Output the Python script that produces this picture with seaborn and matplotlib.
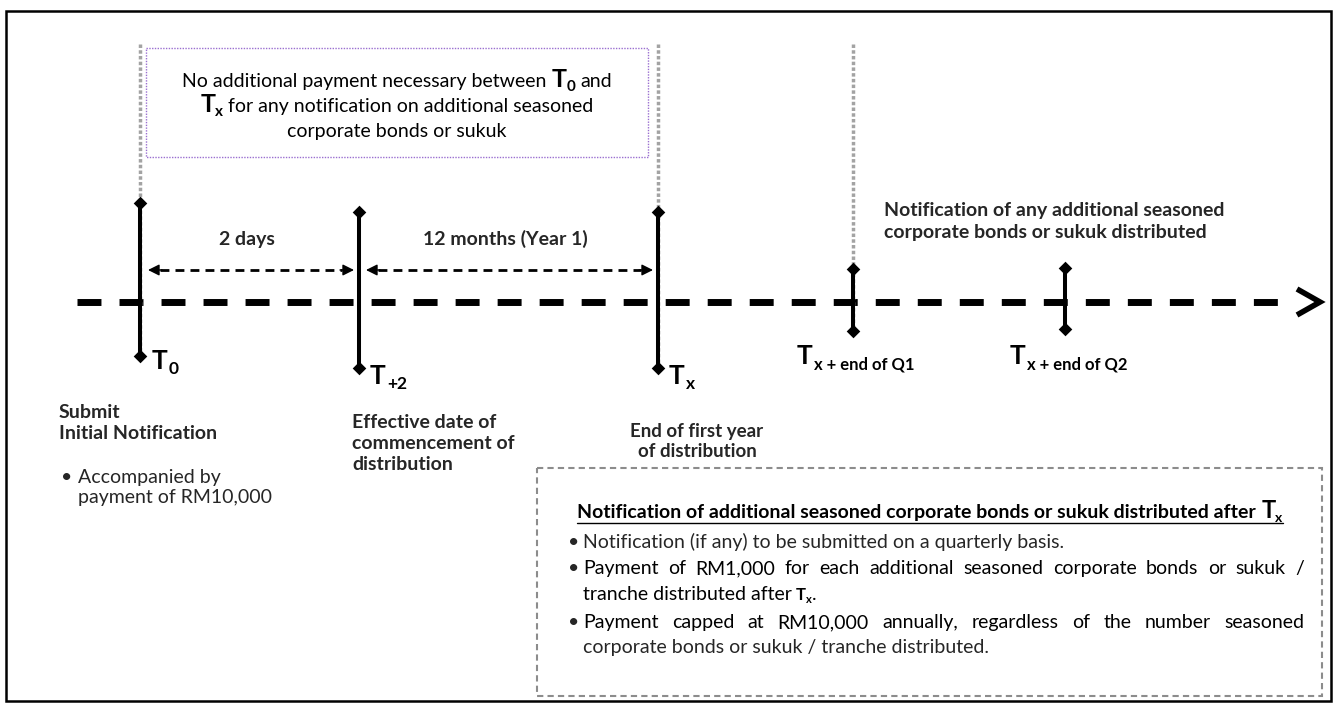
import numpy as np
import pandas as pd
import matplotlib
matplotlib.use("Agg")
import matplotlib.pyplot as plt
from matplotlib.patches import Rectangle
import seaborn as sns

sns.set_theme(style="white")
plt.rcParams['font.family'] = ['Lato', 'DejaVu Sans']

W, H = 1338, 706

# --- timeline data ---
event_pos = [140, 359, 658, 853, 1065]
event_main = ["T", "T", "T", "T", "T"]
event_sub = ["0", "+2", "x", "x + end of Q1", "x + end of Q2"]
guide_events = [0, 2, 3]          # events with grey dotted guide lines
span_labels = ["2 days", "12 months (Year 1)"]
span_from = [0, 1]
span_to = [1, 2]

box_top_lines = ["No additional payment necessary between", "for any notification on additional seasoned",
                 "corporate bonds or sukuk"]
submit_lines = ["Submit", "Initial Notification"]
submit_bullet = ["Accompanied by", "payment of RM10,000"]
effective_lines = ["Effective date of", "commencement of", "distribution"]
end_year_lines = ["End of first year", "of distribution"]
notif_lines = ["Notification of any additional seasoned", "corporate bonds or sukuk distributed"]
after_heading = "Notification of additional seasoned corporate bonds or sukuk distributed after"
after_bullets = [
    ["Notification (if any) to be submitted on a quarterly basis."],
    ["Payment of RM1,000 for each additional seasoned corporate bonds or sukuk /", "tranche distributed after"],
    ["Payment capped at RM10,000 annually, regardless of the number seasoned",
     "corporate bonds or sukuk / tranche distributed."],
]

# styling for ticks
tick_top = [203, 212, 212, 269, 268]
tick_bot = [356, 368, 368, 331, 329]
label_dx = [12, 11, 11, -56, -55]
label_y = [369, 384, 384, 364, 364]
label_sub_size = [12.5, 12.5, 12.5, 12, 12]
TL_Y = 302

fig = plt.figure(figsize=(W / 100, H / 100), dpi=100)
ax = fig.add_axes([0, 0, 1, 1])
renderer = fig.canvas.get_renderer()


def runs(x, y, parts, align='left'):
    # parts: (text, size, weight, dy, gap_after)
    objs, ws = [], []
    for txt, size, weight, dy, gap in parts:
        o = ax.text(0, y + dy, txt, fontsize=size, fontweight=weight, va='baseline', ha='left', color='black')
        objs.append(o)
        ws.append(o.get_window_extent(renderer).width + gap)
    start = x - sum(ws) / 2 if align == 'center' else x
    cur = start
    for o, w in zip(objs, ws):
        o.set_x(cur)
        cur += w
    return start, cur


def justify(line, x0, x1, y, size):
    words = line.split()
    objs = [ax.text(0, y, w, fontsize=size, va='baseline', ha='left', color='black') for w in words]
    ws = [o.get_window_extent(renderer).width for o in objs]
    gap = (x1 - x0 - sum(ws)) / (len(words) - 1)
    cur = x0
    for o, w in zip(objs, ws):
        o.set_x(cur)
        cur += w + gap


# outer frame
ax.add_patch(Rectangle((6, 11), 1325, 690, fill=False, lw=1.8, ec='black', zorder=1))

# main dashed timeline + open arrow head
ax.plot([77, 1290], [TL_Y, TL_Y], color='black', lw=5, ls=(0, (3.45, 2.6)), dash_capstyle='butt')
ax.plot([1297, 1320, 1297], [289, TL_Y, 315], color='black', lw=4, solid_joinstyle='miter',
        solid_capstyle='butt')

# grey dotted guides
for i in guide_events:
    ax.plot([event_pos[i], event_pos[i]], [44, tick_bot[i]], color='#a3a3a3', lw=2.5,
            ls=(0, (1, 0.65)), dash_capstyle='butt', zorder=2)

# purple dotted box
ax.add_patch(Rectangle((146, 48), 502, 109, fill=False, lw=1.0, ec='#9a6fd0', ls=(0, (1, 1)), zorder=2))

# event ticks
ax.vlines(event_pos, tick_top, tick_bot, color='black', lw=2.9, zorder=4)
marks = pd.DataFrame({"x": event_pos + event_pos, "y": tick_top + tick_bot})
sns.scatterplot(data=marks, x="x", y="y", marker="D", s=48, color="black", edgecolor="black",
                linewidth=0, ax=ax, zorder=5, legend=False)

# double-headed span arrows
for lab, a, b in zip(span_labels, span_from, span_to):
    x1, x2 = event_pos[a] + 8, event_pos[b] - 5
    if a > 0:
        x1 = event_pos[a] + 7
    ax.plot([x1 + 12, x2 - 12], [270, 270], color='black', lw=2, ls=(0, (3.2, 2.2)), dash_capstyle='butt')
    for tip, tail in [(x1, x1 + 14), (x2, x2 - 14)]:
        ax.annotate('', xy=(tip, 270), xytext=(tail, 270),
                    arrowprops=dict(arrowstyle='-|>', color='black', lw=1, mutation_scale=17,
                                    shrinkA=0, shrinkB=0))
    ax.text((event_pos[a] + event_pos[b]) / 2 - 3, 245, lab, fontsize=14, fontweight='bold',
            ha='center', va='baseline')

# event labels
for i in range(len(event_pos)):
    runs(event_pos[i] + label_dx[i], label_y[i],
         [(event_main[i], 19, 'bold', 0, 1), (event_sub[i], label_sub_size[i], 'bold', 5, 0)])

# top box text
runs(397, 87, [(box_top_lines[0], 14, 'normal', 0, 5), ("T", 18, 'bold', 0, 0),
               ("0", 11, 'bold', 4, 5), ("and", 14, 'normal', 0, 0)], align='center')
runs(397, 112, [("T", 18, 'bold', 0, 0), ("x", 11, 'bold', 4, 5),
                (box_top_lines[1], 14, 'normal', 0, 0)], align='center')
runs(397, 137, [(box_top_lines[2], 14, 'normal', 0, 0)], align='center')

# notification header (right)
for k, line in enumerate(notif_lines):
    ax.text(884, 216 + 22 * k, line, fontsize=14, fontweight='bold', va='baseline')

# descriptions under the ticks
for k, line in enumerate(submit_lines):
    ax.text(59, 418 + 21 * k, line, fontsize=14, fontweight='bold', va='baseline')
ax.text(61, 483, u"\u2022", fontsize=14, va='baseline')
for k, line in enumerate(submit_bullet):
    ax.text(78, 483 + 20 * k, line, fontsize=14, va='baseline')
for k, line in enumerate(effective_lines):
    ax.text(352, 428 + 21 * k, line, fontsize=14, fontweight='bold', va='baseline')
for k, line in enumerate(end_year_lines):
    ax.text(697, 437 + 20 * k, line, fontsize=13.5, fontweight='bold', va='baseline', ha='center')

# lower right dashed box
ax.add_patch(Rectangle((537, 468), 785, 228, fill=False, lw=1.5, ec='#8c8c8c', ls=(0, (3, 2)), zorder=2))
s, e = runs(930, 518, [(after_heading, 14, 'bold', 0, 5), ("T", 17, 'bold', 0, 0),
                       ("x", 10, 'bold', 4, 0)], align='center')
ax.plot([s, e], [523, 523], color='black', lw=1)

bx, tx, rx = 568, 583, 1304
ax.text(bx, 548, u"\u2022", fontsize=14, va='baseline')
ax.text(tx, 548, after_bullets[0][0], fontsize=14, va='baseline')
ax.text(bx, 574, u"\u2022", fontsize=14, va='baseline')
justify(after_bullets[1][0], tx, rx, 574, 14)
runs(tx, 600, [(after_bullets[1][1], 14, 'normal', 0, 4), ("T", 12, 'bold', 0, 0),
               ("x", 8, 'bold', 3, 0), (".", 14, 'normal', 0, 0)])
ax.text(bx, 628, u"\u2022", fontsize=14, va='baseline')
justify(after_bullets[2][0], tx, rx, 628, 14)
ax.text(tx, 653, after_bullets[2][1], fontsize=14, va='baseline')

ax.set_xlim(0, W)
ax.set_ylim(H, 0)
ax.axis('off')
fig.savefig("out.png", dpi=100)
